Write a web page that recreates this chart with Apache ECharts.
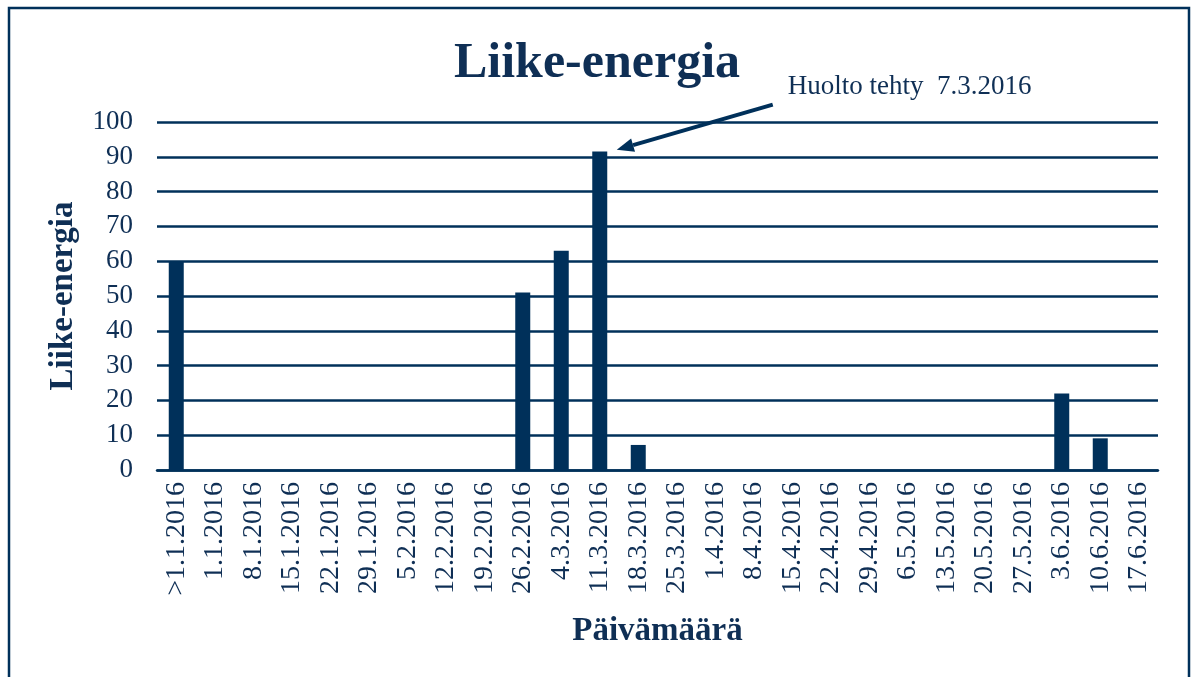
<!DOCTYPE html>
<html>
<head>
<meta charset="utf-8">
<script src="https://cdn.jsdelivr.net/npm/echarts@6/dist/echarts.min.js"></script>
<style>
html,body{margin:0;padding:0;background:#fff;}
#main{width:1194px;height:677px;}
</style>
</head>
<body>
<div id="main"></div>
<script>
const categories = ['>1.1.2016','1.1.2016','8.1.2016','15.1.2016','22.1.2016','29.1.2016','5.2.2016','12.2.2016','19.2.2016','26.2.2016','4.3.2016','11.3.2016','18.3.2016','25.3.2016','1.4.2016','8.4.2016','15.4.2016','22.4.2016','29.4.2016','6.5.2016','13.5.2016','20.5.2016','27.5.2016','3.6.2016','10.6.2016','17.6.2016'];
const values = [60,0,0,0,0,0,0,0,0,51,63,91.5,7.2,0,0,0,0,0,0,0,0,0,0,22,9.1,0];
const annotationText = 'Huolto tehty  7.3.2016';
const annotationCategory = '11.3.2016';
const annotationValue = 92;

const NAVY = '#00305a';
const TEXT = '#0f2f55';
const FONT = '"Liberation Serif", "Times New Roman", serif';

const chart = echarts.init(document.getElementById('main'), null, {renderer:'canvas'});
const option = {
  animation: false,
  backgroundColor: '#fff',
  title: {
    text: 'Liike-energia',
    left: 'center',
    top: 34,
    textStyle: {fontFamily: FONT, fontWeight: 'bold', fontSize: 50, color: TEXT}
  },
  grid: {left: 157, right: 36, top: 122, bottom: 207, containLabel: false},
  xAxis: {
    type: 'category',
    data: categories,
    name: 'Päivämäärä',
    nameLocation: 'middle',
    nameGap: 145,
    nameTextStyle: {fontFamily: FONT, fontWeight: 'bold', fontSize: 33, color: TEXT},
    axisLine: {show: true, lineStyle: {color: NAVY, width: 2.5}},
    axisTick: {show: false},
    axisLabel: {rotate: 90, interval: 0, margin: 12, fontFamily: FONT, fontSize: 28, color: TEXT}
  },
  yAxis: {
    type: 'value',
    min: 0, max: 100, interval: 10,
    name: 'Liike-energia',
    nameLocation: 'middle',
    nameRotate: 90,
    nameGap: 77,
    nameTextStyle: {fontFamily: FONT, fontWeight: 'bold', fontSize: 33, color: TEXT},
    axisLine: {show: false},
    axisTick: {show: false},
    axisLabel: {margin: 24, fontFamily: FONT, fontSize: 27, color: TEXT},
    splitLine: {show: true, lineStyle: {color: NAVY, width: 2.5}}
  },
  series: [{
    type: 'bar',
    data: values,
    barWidth: 15,
    itemStyle: {color: NAVY}
  }]
};
chart.setOption(option);

const tip = chart.convertToPixel({xAxisIndex:0, yAxisIndex:0}, [annotationCategory, annotationValue]);
tip[0] += 17;
const start = chart.convertToPixel({xAxisIndex:0, yAxisIndex:0}, [annotationCategory, 105]);
start[0] = tip[0] + 156;
const dx = tip[0]-start[0], dy = tip[1]-start[1];
const len = Math.sqrt(dx*dx+dy*dy);
const ux = dx/len, uy = dy/len;
const headLen = 17, headW = 7;
const base = [tip[0]-ux*headLen, tip[1]-uy*headLen];
const px = -uy, py = ux;

chart.setOption({
  graphic: [
    {type:'rect', shape:{x:9, y:8, width:1180, height:720}, style:{fill:'none', stroke:NAVY, lineWidth:2.5}, silent:true},
    {type:'line', shape:{x1:start[0], y1:start[1], x2:base[0], y2:base[1]}, style:{stroke:NAVY, lineWidth:4}},
    {type:'polygon', shape:{points:[tip, [base[0]+px*headW, base[1]+py*headW], [base[0]-px*headW, base[1]-py*headW]]}, style:{fill:NAVY}},
    {type:'text', x:start[0]+15, y:start[1]-18, style:{text:annotationText, font:'27px "Liberation Serif", "Times New Roman", serif', fill:TEXT, textVerticalAlign:'middle'}}
  ]
});
</script>
</body>
</html>
